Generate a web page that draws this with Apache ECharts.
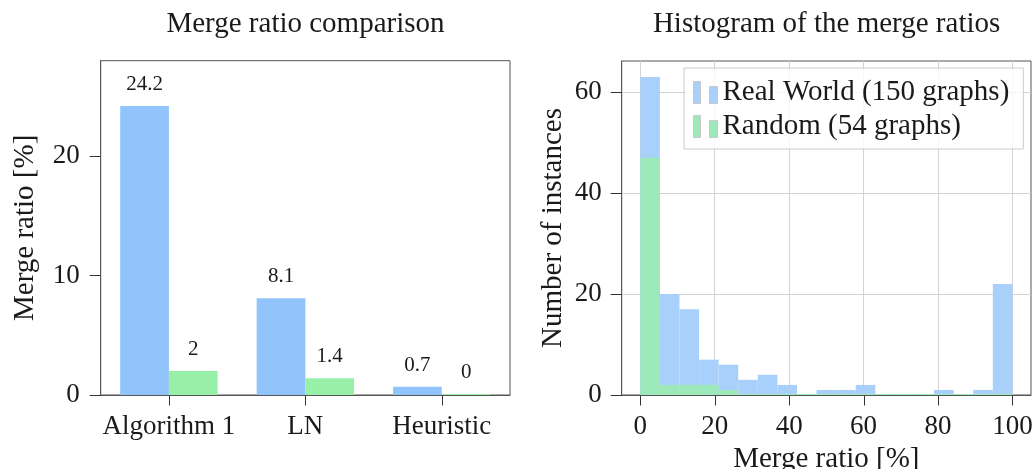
<!DOCTYPE html>
<html>
<head>
<meta charset="utf-8">
<script src="https://cdn.jsdelivr.net/npm/echarts@6/dist/echarts.min.js"></script>
<style>
  html, body { margin: 0; padding: 0; background: #ffffff; }
  #chart { width: 1032px; height: 469px; background: #ffffff; }
</style>
</head>
<body>
<div id="chart"></div>
<script>
// Left panel: mean merge ratio per method
const methods = ['Algorithm 1', 'LN', 'Heuristic'];
const realWorldRatio = [24.2, 8.1, 0.7];
const randomRatio = [2, 1.4, 0];
const ratioTicks = [0, 10, 20];

// Right panel: histogram of merge ratios (19 bins over 0..100 %)
const binEdges = [0, 5.26, 10.53, 15.79, 21.05, 26.32, 31.58, 36.84, 42.11, 47.37,
                  52.63, 57.89, 63.16, 68.42, 73.68, 78.95, 84.21, 89.47, 94.74, 100];
const realWorldCounts = [63, 20, 17, 7, 6, 3, 4, 2, 0, 1, 1, 2, 0, 0, 0, 1, 0, 1, 22];
const randomCounts    = [47, 2, 2, 2, 1, 0, 0, 0, 0, 0, 0, 0, 0, 0, 0, 0, 0, 0, 0];
const histXTicks = [0, 20, 40, 60, 80, 100];
const histYTicks = [0, 20, 40, 60];
const legendNames = ['Real World (150 graphs)', 'Random (54 graphs)'];

const FONT = 'Liberation Serif';
const INK = '#1a1a1a';
const FRAME = '#555555';
const TICK = '#333333';
const BLUE = '#90c4fb', GREEN = '#98f0a8';
const HIST_BLUE = '#a8d0fb', HIST_GREEN = '#9de9b9';
const X_TICK_LEN = 10;

function histData(counts) {
  return counts.map((c, i) => [binEdges[i], binEdges[i + 1], c]);
}

function histRenderer(minPx) {
  return function (params, api) {
    const p0 = api.coord([api.value(0), 0]);
    const p1 = api.coord([api.value(1), api.value(2)]);
    const h = Math.max(p0[1] - p1[1], minPx);
    return {
      type: 'rect',
      shape: { x: p0[0], y: p0[1] - h, width: p1[0] - p0[0], height: h },
      style: { fill: api.visual('color') }
    };
  };
}

const tickStyle = { color: TICK, width: 1 };
const labelStyle = { fontFamily: FONT, fontSize: 27, color: INK };
const bigText = { fontFamily: FONT, fontSize: 29, fontWeight: 'normal', color: INK };
const valueLabel = { show: true, position: 'top', distance: 11, fontFamily: FONT, fontSize: 21, color: INK };

const chart = echarts.init(document.getElementById('chart'));

chart.setOption({
  animation: false,
  title: [
    { text: 'Merge ratio comparison', left: 305.5, top: 10, textAlign: 'center', padding: 0, textStyle: bigText },
    { text: 'Histogram of the merge ratios', left: 826.6, top: 10, textAlign: 'center', padding: 0, textStyle: bigText }
  ],
  legend: {
    data: legendNames,
    orient: 'vertical',
    left: 684, top: 68,
    padding: [10, 14, 8, 9],
    itemGap: 5,
    itemWidth: 24, itemHeight: 22,
    icon: 'path://M0,0H7V22H0ZM16,5H24V22H16Z',
    itemStyle: { borderColor: '#c8c8c8', borderWidth: 1 },
    backgroundColor: 'rgba(255,255,255,0.82)',
    borderColor: '#cccccc', borderWidth: 1,
    textStyle: { fontFamily: FONT, fontSize: 29, color: INK }
  },
  grid: [
    { left: 100.7, right: 522, top: 60.7, bottom: 74, show: true, outerBoundsMode: 'none',
      borderColor: FRAME, borderWidth: 1 },
    { left: 621.7, right: 1, top: 61, bottom: 74, show: true, outerBoundsMode: 'none',
      borderColor: FRAME, borderWidth: 1 }
  ],
  xAxis: [
    { type: 'category', gridIndex: 0, data: methods,
      axisLine: { show: true, onZero: false, lineStyle: { color: FRAME } },
      axisTick: { show: false },
      axisLabel: Object.assign({ interval: 0, margin: 18 }, labelStyle),
      splitLine: { show: false } },
    { type: 'value', gridIndex: 1, min: -5, max: 105,
      name: 'Merge ratio [%]', nameLocation: 'middle', nameGap: 44, nameTextStyle: bigText,
      axisLine: { show: true, onZero: false, lineStyle: { color: FRAME } },
      axisTick: { show: false, customValues: histXTicks },
      axisLabel: Object.assign({ margin: 18, customValues: histXTicks }, labelStyle),
      splitLine: { show: true, lineStyle: { color: '#d2d2d2', width: 1 } } }
  ],
  yAxis: [
    { type: 'value', gridIndex: 0, min: 0, max: 28,
      name: 'Merge ratio [%]', nameLocation: 'middle', nameGap: 61, nameTextStyle: bigText,
      axisLine: { show: true, onZero: false, lineStyle: { color: FRAME } },
      axisTick: { show: true, length: 11, lineStyle: tickStyle, customValues: ratioTicks },
      axisLabel: Object.assign({ margin: 21, customValues: ratioTicks }, labelStyle),
      splitLine: { show: false } },
    { type: 'value', gridIndex: 1, min: 0, max: 66.15, splitNumber: 3,
      name: 'Number of instances', nameLocation: 'middle', nameGap: 54, nameTextStyle: bigText,
      axisLine: { show: true, onZero: false, lineStyle: { color: FRAME } },
      axisTick: { show: true, length: 11, lineStyle: tickStyle, customValues: histYTicks },
      axisLabel: Object.assign({ margin: 20, customValues: histYTicks }, labelStyle),
      splitLine: { show: true, lineStyle: { color: '#d2d2d2', width: 1 } } }
  ],
  series: [
    { name: 'Real World', type: 'bar', xAxisIndex: 0, yAxisIndex: 0,
      data: realWorldRatio, barWidth: 48.7, barGap: '0%',
      itemStyle: { color: BLUE }, label: valueLabel },
    { name: 'Random', type: 'bar', xAxisIndex: 0, yAxisIndex: 0,
      data: randomRatio, barWidth: 48.7, barGap: '0%', barMinHeight: 1,
      itemStyle: { color: GREEN }, label: valueLabel },
    { name: legendNames[0], type: 'custom', xAxisIndex: 1, yAxisIndex: 1,
      data: histData(realWorldCounts), encode: { x: [0, 1], y: 2 },
      itemStyle: { color: HIST_BLUE }, renderItem: histRenderer(0) },
    { name: legendNames[1], type: 'custom', xAxisIndex: 1, yAxisIndex: 1,
      data: histData(randomCounts), encode: { x: [0, 1], y: 2 },
      itemStyle: { color: HIST_GREEN }, renderItem: histRenderer(1) }
  ]
});

// Outward ticks under both x axes, placed from the axes' own scales.
(function drawXTicks() {
  const ticks = [];
  const base0 = chart.convertToPixel({ yAxisIndex: 0 }, 0);
  methods.forEach(m => ticks.push([chart.convertToPixel({ xAxisIndex: 0 }, m), base0]));
  const base1 = chart.convertToPixel({ yAxisIndex: 1 }, 0);
  histXTicks.forEach(v => ticks.push([chart.convertToPixel({ xAxisIndex: 1 }, v), base1]));
  chart.setOption({
    graphic: ticks.map(p => {
      const x = Math.round(p[0]) + 0.5;
      const y = Math.round(p[1]) + 0.5;
      return {
        type: 'line', silent: true, z: 100,
        shape: { x1: x, y1: y, x2: x, y2: y + X_TICK_LEN },
        style: { stroke: TICK, lineWidth: 1 }
      };
    })
  });
})();
</script>
</body>
</html>
